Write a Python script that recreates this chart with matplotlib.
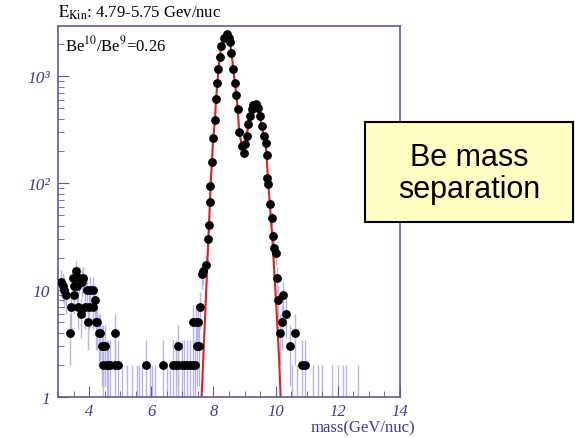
import matplotlib
matplotlib.use("Agg")
import matplotlib.pyplot as plt
import matplotlib.patches as mpatches
from matplotlib.ticker import FixedLocator, MultipleLocator
import numpy as np

plt.rcParams['mathtext.fontset'] = 'stix'
plt.rcParams['font.family'] = 'Liberation Serif'

# measured points (mass in GeV/nuc, counts per bin)
mass = [3.10, 3.16, 3.20, 3.25, 3.39, 3.42, 3.47, 3.50, 3.52, 3.58, 3.60, 3.63,
        3.69, 3.73, 3.78, 3.81, 3.87, 3.94, 3.97, 4.01, 4.03, 4.11, 4.14, 4.19,
        4.22, 4.26, 4.31, 4.35, 4.40, 4.44, 4.46, 4.51, 4.56, 4.62, 4.67, 4.83,
        4.83, 4.94,
        5.83, 6.39, 6.69, 6.78, 6.87, 6.87, 6.98, 7.05, 7.16, 7.24, 7.33, 7.35,
        7.41, 7.43, 7.46, 7.50, 7.53, 7.57,
        7.62, 7.66, 7.76, 7.83, 7.87, 7.89, 7.90, 7.94, 7.99, 8.05, 8.08, 8.13,
        8.16, 8.21, 8.24, 8.34, 8.42, 8.49, 8.53, 8.58, 8.64, 8.69, 8.74, 8.78,
        8.83, 8.91, 8.99, 9.01, 9.07, 9.12, 9.17, 9.23, 9.28, 9.37, 9.44, 9.49,
        9.55, 9.62, 9.68, 9.71, 9.71, 9.76, 9.82, 9.87, 9.90, 9.95, 10.01, 10.03,
        10.08, 10.14, 10.19, 10.24, 10.33, 10.46, 10.62, 10.84, 10.94]
counts = [12, 11, 10, 9, 4, 7, 13, 11, 9, 15, 11, 7,
          13, 6, 12, 13, 7, 10, 5, 7, 10, 10, 7, 8,
          5, 5, 4, 4, 3, 3, 2, 3, 2, 2, 2, 4,
          2, 2,
          2, 2, 2, 2, 3, 2, 2, 2, 2, 2, 2, 5,
          2, 5, 3, 5, 3, 7,
          14, 15, 17, 30, 41, 66, 94, 158, 267, 388, 609, 873,
          1180, 1527, 1918, 2300, 2470, 2300, 2090, 1660, 1160, 873, 664, 492,
          298, 223, 190, 231, 277, 356, 425, 492, 536, 550, 500, 425,
          343, 277, 240, 183, 111, 98, 64, 47, 32, 25, 22, 13,
          8, 4, 5, 9, 6, 3, 4, 2, 2]

# bins holding a single event (only the error bar shows)
single_mass = [5.05, 5.21, 5.37, 5.53, 5.61, 5.69, 5.96, 6.01, 6.12, 6.49, 6.60,
               10.52, 10.70, 11.21, 11.37, 11.48, 11.80, 12.01, 12.17, 12.26, 12.66]

# fitted curve (two Be isotopes)
fit_mass = [7.62, 7.70, 7.78, 7.86, 7.92, 7.99, 8.05, 8.08, 8.13, 8.16, 8.21,
            8.24, 8.34, 8.42, 8.49, 8.53, 8.58, 8.64, 8.69, 8.74, 8.78, 8.83,
            8.91, 8.99, 9.03, 9.07, 9.12, 9.17, 9.23, 9.28, 9.35, 9.44, 9.49,
            9.55, 9.62, 9.68, 9.71, 9.76, 9.82, 9.88, 9.94, 10.00, 10.06,
            10.12, 10.16]
fit_counts = [1.0, 3.5, 12, 44, 110, 260, 390, 600, 870, 1180, 1530,
              1900, 2300, 2450, 2300, 2090, 1660, 1160, 870, 660, 490, 300,
              225, 195, 230, 277, 356, 425, 492, 536, 555, 500, 425,
              343, 277, 240, 180, 100, 60, 35, 18, 9, 4.5,
              2.0, 1.0]

x_ticks = [4, 6, 8, 10, 12, 14]
y_ticks = [1, 10, 100, 1000]
y_ticklabels = ['1', '10', '10\u00b2', '10\u00b3']

frame_col = '#5a5aa8'
label_col = '#3c3c96'
err_col = '#b4b4ee'

fig = plt.figure(figsize=(5.75, 4.39), dpi=100)
ax = fig.add_axes([58 / 575, 1 - 398 / 439, 342 / 575, 371 / 439])

# error bars
cnt = np.array(counts, dtype=float)
err = np.sqrt(cnt)
ax.vlines(mass, np.maximum(cnt - err, 0.5), cnt + err, color=err_col, lw=1, zorder=1)
ax.vlines(single_mass, 0.5, 2, color=err_col, lw=1, zorder=1)

ax.plot(fit_mass, fit_counts, color='#e02020', lw=1.5, zorder=2)
ax.plot(mass, counts, 'o', color='black', markersize=5.3, zorder=3)

ax.set_yscale('log')
ax.set_xlim(3, 14)
ax.set_ylim(1, 2950)

ax.xaxis.set_major_locator(FixedLocator(x_ticks))
ax.xaxis.set_minor_locator(MultipleLocator(0.5))
ax.set_xticklabels([str(t) for t in x_ticks])
ax.yaxis.set_major_locator(FixedLocator(y_ticks))
ax.set_yticklabels(y_ticklabels)
ax.yaxis.set_minor_formatter(plt.NullFormatter())

ax.tick_params(which='both', direction='in', color=frame_col,
               top=False, right=False)
ax.tick_params(which='major', length=8)
ax.tick_params(which='minor', length=4)
ax.tick_params(axis='x', pad=4, labelsize=12, labelcolor=label_col)
ax.tick_params(axis='y', pad=6, labelsize=12.5, labelcolor=label_col)
for lab in ax.get_xticklabels() + ax.get_yticklabels():
    lab.set_fontstyle('italic')

for spine in ax.spines.values():
    spine.set_color(frame_col)
    spine.set_linewidth(1.2)

fig.text(58 / 575, 1 - 13 / 439, r'$\mathrm{E_{Kin}}$: 4.79-5.75 Gev/nuc',
         fontsize=12, va='center', ha='left')
ax.text(0.02, 0.95, r'Be$^{10}$/Be$^{9}$=0.26', transform=ax.transAxes,
        fontsize=12, va='center', ha='left')
fig.text(415 / 575, 1 - 428 / 439, 'mass(GeV/nuc)', color=label_col,
         fontsize=12, ha='right', va='center')

# label box on the right
box = mpatches.Rectangle((365 / 575, 1 - 223 / 439), 208 / 575, 100 / 439,
                         transform=fig.transFigure, facecolor='#ffffc4',
                         edgecolor='black', lw=1.5)
fig.patches.append(box)
fig.text(469 / 575, 1 - 174 / 439, 'Be mass\nseparation', family='Liberation Sans',
         fontsize=22, ha='center', va='center', linespacing=1.05)

fig.savefig('out.png', dpi=100, facecolor='white')
